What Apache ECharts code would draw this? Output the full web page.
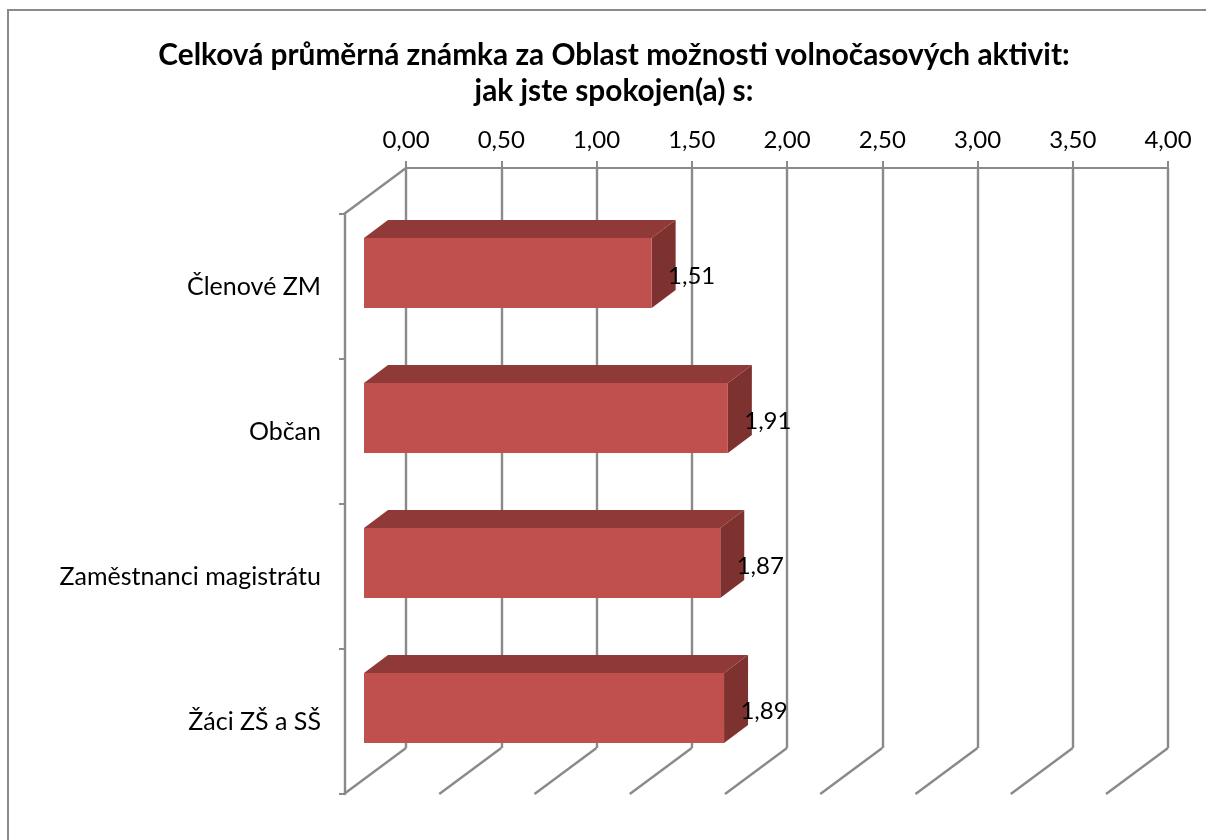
<!DOCTYPE html>
<html><head><meta charset="utf-8">
<style>html,body{margin:0;padding:0;background:#fff}#c{width:1206px;height:840px}</style>
<script src="https://cdn.jsdelivr.net/npm/echarts@6/dist/echarts.min.js"></script>
</head><body><div id="c"></div>
<script>
const titleText = 'Celková průměrná známka za Oblast možnosti volnočasových aktivit:\njak jste spokojen(a) s:';
const categories = ['Členové ZM', 'Občan', 'Zaměstnanci magistrátu', 'Žáci ZŠ a SŠ'];
const values = [1.51, 1.91, 1.87, 1.89];
const ticks = [0, 0.5, 1, 1.5, 2, 2.5, 3, 3.5, 4];

const FONT = 'Lato';
const GRAY = '#8A8A8A';
const comma = v => v.toFixed(2).replace('.', ',');
const chart = echarts.init(document.getElementById('c'), null, {renderer: 'canvas'});

// projection offsets of the fake 3D box, relative to the back wall
const FLOOR = {dx: -62, dy: 46};
const FACE = {dx: -42, dy: 32.5};
const BACK = {dx: -18, dy: 14.5};
const HALF = 35;

function renderBar(params, api) {
  const v = api.value(0), c = api.value(1);
  const p0 = api.coord([0, c]), p1 = api.coord([v, c]);
  const xl = p0[0] + FACE.dx, xr = p1[0] + FACE.dx;
  const yc = p0[1] + FACE.dy, yt = yc - HALF, yb = yc + HALF;
  const ox = BACK.dx - FACE.dx, oy = BACK.dy - FACE.dy;
  return {type: 'group', children: [
    {type: 'polygon', shape: {points: [[xl, yt], [xl + ox, yt + oy], [xr + ox, yt + oy], [xr, yt]]},
      style: {fill: '#8F3A38'}},
    {type: 'polygon', shape: {points: [[xr, yt], [xr + ox, yt + oy], [xr + ox, yb + oy], [xr, yb]]},
      style: {fill: '#7D3230'}},
    {type: 'rect', shape: {x: xl, y: yt, width: xr - xl, height: yb - yt},
      style: {fill: '#C0504D'}},
    {type: 'text', x: xr + 40, y: yc + 3, z2: 10,
      style: {text: comma(v), fill: '#000', font: '24px ' + FONT, textAlign: 'center', textVerticalAlign: 'middle'}}
  ]};
}

function renderFloor(params, api) {
  const v = api.value(0);
  const last = categories.length - 1;
  const p = api.coord([v, last]);
  const h = api.size([0, 1])[1] / 2;
  return {type: 'line', shape: {x1: p[0], y1: p[1] + h, x2: p[0] + FLOOR.dx, y2: p[1] + h + FLOOR.dy},
    style: {stroke: GRAY, lineWidth: 2.4}};
}

function renderWallTop(params, api) {
  const p = api.coord([0, 0]);
  const h = api.size([0, 1])[1] / 2;
  return {type: 'line', shape: {x1: p[0], y1: p[1] - h, x2: p[0] + FLOOR.dx, y2: p[1] - h + FLOOR.dy},
    style: {stroke: GRAY, lineWidth: 2.4}};
}

chart.setOption({
  animation: false,
  backgroundColor: '#fff',
  title: {text: titleText, left: 609, top: 32, textAlign: 'center',
    textStyle: {fontFamily: FONT, fontWeight: 'bold', fontSize: 29.8, lineHeight: 36, color: '#000'}},
  graphic: [{type: 'polyline', silent: true,
    shape: {points: [[1206, 10], [8, 10], [8, 840]]}, style: {stroke: GRAY, lineWidth: 2, fill: null}}],
  grid: [
    {left: 406, top: 168, width: 762, height: 580},
    {left: 345, top: 214, width: 762, height: 580}
  ],
  xAxis: [
    {gridIndex: 0, type: 'value', position: 'top', min: 0, max: 4, interval: 0.5,
      axisLine: {show: true, lineStyle: {color: GRAY, width: 2}},
      axisTick: {show: true, length: 7, lineStyle: {color: GRAY, width: 2}},
      splitLine: {show: true, lineStyle: {color: GRAY, width: 2.4}},
      axisLabel: {margin: 16, color: '#000', fontFamily: FONT, fontSize: 24, formatter: comma, hideOverlap: false}},
    {gridIndex: 1, type: 'value', min: 0, max: 4, show: false}
  ],
  yAxis: [
    {gridIndex: 0, type: 'category', inverse: true, data: categories, show: false},
    {gridIndex: 1, type: 'category', inverse: true, data: categories,
      axisLine: {show: true, lineStyle: {color: GRAY, width: 2.4}},
      axisTick: {show: true, length: 6, alignWithLabel: false, lineStyle: {color: GRAY, width: 2}},
      axisLabel: {margin: 24, color: '#000', fontFamily: FONT, fontSize: 25, interval: 0, padding: [12, 0, 0, 0]}}
  ],
  series: [
    {type: 'custom', xAxisIndex: 0, yAxisIndex: 0, silent: true, clip: false, z: 1,
      data: ticks.map(t => [t, 0]), encode: {x: 0, y: 1}, renderItem: renderFloor},
    {type: 'custom', xAxisIndex: 0, yAxisIndex: 0, silent: true, clip: false, z: 1,
      data: [[0, 0]], encode: {x: 0, y: 1}, renderItem: renderWallTop},
    {type: 'custom', xAxisIndex: 0, yAxisIndex: 0, silent: true, clip: false, z: 5,
      data: values.map((v, i) => [v, i]), encode: {x: 0, y: 1}, renderItem: renderBar}
  ]
});
</script></body></html>
